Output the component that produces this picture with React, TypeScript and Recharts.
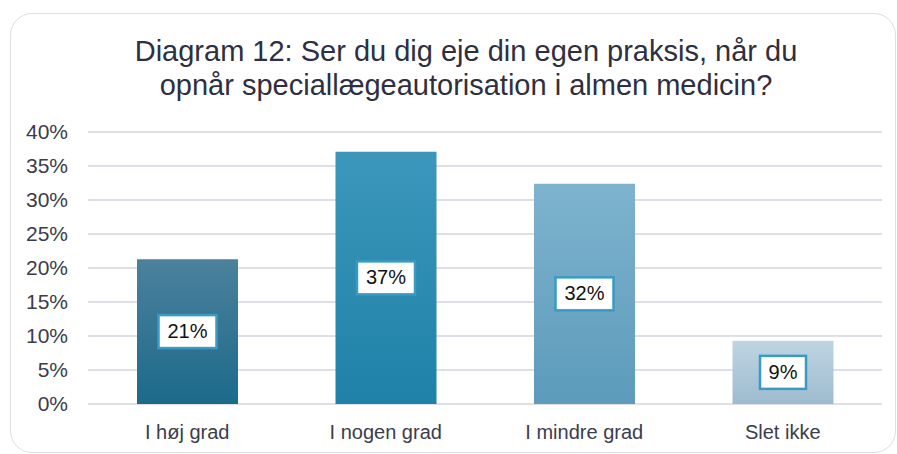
import { Bar, BarChart, CartesianGrid, Cell, LabelList, XAxis, YAxis } from "recharts";

const categories = ["I høj grad", "I nogen grad", "I mindre grad", "Slet ikke"];
const shares = [21.3, 37.1, 32.4, 9.3];
const yTicks = [0, 5, 10, 15, 20, 25, 30, 35, 40];
const titleLines = [
  "Diagram 12: Ser du dig eje din egen praksis, når du",
  "opnår speciallægeautorisation i almen medicin?",
];

const gradients = [
  ["#4b819c", "#1c6a8a"],
  ["#3c97bb", "#1f81a8"],
  ["#7eb3ce", "#5c9bbb"],
  ["#bed4e3", "#9ebccf"],
];

const data = categories.map((name, i) => ({ name, value: shares[i] }));

const font = "'Liberation Sans', Arial, sans-serif";

function BoxLabel(props: any) {
  const { x, y, width, height, value } = props;
  const text = `${Math.round(Number(value))}%`;
  const w = text.length > 2 ? 58 : 46;
  const h = 33;
  const cx = x + width / 2;
  const cy = y + height / 2;
  return (
    <g>
      <rect x={cx - w / 2} y={cy - h / 2} width={w} height={h} fill="#fff" stroke="#3a9ac4" strokeWidth={2.5} />
      <text x={cx} y={cy + 1} textAnchor="middle" dominantBaseline="middle" fontSize={20} fontFamily={font} fill="#111">
        {text}
      </text>
    </g>
  );
}

export default function App() {
  return (
    <div style={{ position: "absolute", left: 0, top: 0, width: 897, height: 454, background: "#fff", overflow: "hidden" }}>
      <div
        style={{
          position: "absolute",
          left: 10,
          top: 13,
          width: 884,
          height: 438,
          border: "1.5px solid #dedee6",
          borderRadius: 22,
        }}
      />
      <svg style={{ position: "absolute", left: 0, top: 0 }} width={897} height={120}>
        {titleLines.map((line, i) => (
          <text key={i} x={466} y={61 + i * 34} textAnchor="middle" fontSize={29} fontFamily={font} fill="#2e2f40">
            {line}
          </text>
        ))}
      </svg>
      <div style={{ position: "absolute", left: 0, top: 0 }}>
        <BarChart width={897} height={454} data={data} margin={{ top: 132, right: 15, bottom: 0, left: 0 }} barCategoryGap={49}>
          <defs>
            {gradients.map(([top, bottom], i) => (
              <linearGradient key={i} id={`g${i}`} x1="0" y1="0" x2="0" y2="1">
                <stop offset="0%" stopColor={top} />
                <stop offset="100%" stopColor={bottom} />
              </linearGradient>
            ))}
          </defs>
          <CartesianGrid vertical={false} stroke="#dfdfe8" strokeWidth={2} />
          <XAxis
            dataKey="name"
            axisLine={false}
            tickLine={false}
            tickSize={0}
            tickMargin={21}
            height={50}
            tick={{ fontSize: 20, fontFamily: font, fill: "#3b3c4c" }}
          />
          <YAxis
            domain={[0, 40]}
            ticks={yTicks}
            interval={0}
            width={88}
            axisLine={false}
            tickLine={false}
            tickSize={0}
            tickMargin={20}
            tickFormatter={(v) => `${v}%`}
            tick={{ fontSize: 21, fontFamily: font, fill: "#3b3c4c" }}
          />
          <Bar dataKey="value" isAnimationActive={false}>
            {data.map((d, i) => (
              <Cell key={d.name} fill={`url(#g${i})`} />
            ))}
            <LabelList dataKey="value" content={BoxLabel} />
          </Bar>
        </BarChart>
      </div>
    </div>
  );
}
